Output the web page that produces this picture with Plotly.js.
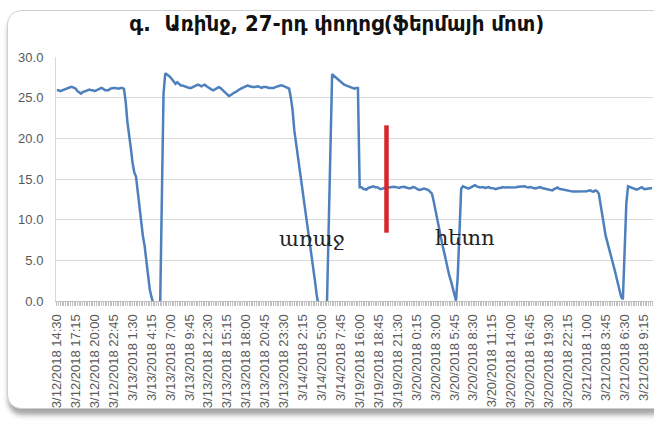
<!DOCTYPE html>
<html>
<head>
<meta charset="utf-8">
<script src="https://cdn.plot.ly/plotly-3.0.1.min.js"></script>
<style>
  html, body { margin: 0; padding: 0; background: #ffffff; }
  #wrap { position: relative; width: 654px; height: 421px; overflow: hidden; background: #ffffff; }
  #card { position: absolute; left: 7px; top: 10px; width: 680px; height: 397px;
          border: 1px solid #cfcfcf; border-radius: 14px; background: #ffffff;
          box-shadow: 1px 6px 5px rgba(0,0,0,0.35); }
  #chart { position: absolute; left: 0; top: 0; width: 654px; height: 421px; }
</style>
</head>
<body>
<div id="wrap">
  <div id="card"></div>
  <div id="chart"></div>
</div>
<script>
// Segment 1: 3/12/2018 14:30 onward, every 15 minutes
const seg1Start = [2018, 3, 12, 14, 30];
const seg1Temp = [
  25.9, 25.9, 25.8, 25.9, 26.0, 26.1, 26.2, 26.3, 26.3, 26.3,
  26.2, 26.1, 25.8, 25.6, 25.5, 25.7, 25.8, 25.9, 25.9, 26.0,
  25.9, 25.9, 25.8, 25.9, 26.0, 26.1, 26.2, 26.1, 25.9, 25.9,
  25.9, 26.1, 26.2, 26.2, 26.2, 26.1, 26.1, 26.2, 26.2, 26.1,
  24.5, 22.0, 20.6, 18.8, 17.0, 15.8, 15.3, 13.5, 11.0, 9.5,
  8.0, 6.8, 4.8, 2.8, 1.4, 0.5, -0.3, -3, -3, -3,
  -1, 12, 25.5, 28.0, 27.9, 27.7, 27.5, 27.2, 26.9, 26.7,
  26.9, 26.7, 26.5, 26.5, 26.4, 26.3, 26.3, 26.2, 26.2, 26.3,
  26.4, 26.5, 26.6, 26.5, 26.4, 26.5, 26.6, 26.4, 26.3, 26.1,
  26.0, 25.9, 26.0, 26.1, 26.3, 26.2, 26.0, 25.8, 25.6, 25.4,
  25.2, 25.3, 25.5, 25.6, 25.7, 25.9, 26.0, 26.1, 26.2, 26.3,
  26.4, 26.5, 26.4, 26.3, 26.3, 26.3, 26.4, 26.4, 26.3, 26.2,
  26.3, 26.3, 26.3, 26.2, 26.2, 26.2, 26.2, 26.3, 26.4, 26.4,
  26.5, 26.5, 26.4, 26.4, 26.3, 26.1, 25.0, 23.5, 21.0, 19.5,
  18.0, 16.5, 14.8, 13.0, 11.5, 10.3, 9.0, 7.5, 5.8, 4.2,
  2.5, 0.8, -0.5, -3, -3, -3, -3, -0.3, 9.5, 19.0,
  27.9, 27.7, 27.5, 27.3, 27.1, 26.9, 26.8, 26.6, 26.5, 26.4,
  26.3, 26.2, 26.1, 26.1, 26.2, 26.2
];
// Segment 2: 3/19/2018 16:00 onward, every 15 minutes
const seg2Start = [2018, 3, 19, 16, 0];
const seg2Temp = [
  14.0, 14.0, 13.8, 13.7, 13.7, 13.9, 13.95, 14.05, 14.1, 14.0,
  14.0, 13.9, 13.75, 13.8, 13.9, 14.0, 14.0, 13.95, 14.0, 14.05,
  14.05, 14.0, 13.95, 13.9, 14.0, 14.05, 14.05, 13.95, 13.9, 13.85,
  13.9, 14.0, 13.95, 13.8, 13.7, 13.65, 13.75, 13.8, 13.8, 13.7,
  13.65, 13.4, 13.2, 12.3, 11.2, 10.0, 8.9, 7.8, 7.0, 6.1,
  5.1, 4.0, 3.2, 2.5, 1.7, 0.8, 0.05, 3.0, 8.5, 13.8,
  14.1, 14.0, 13.9, 13.85, 13.9, 14.0, 14.15, 14.25, 14.1, 14.0,
  13.95, 14.0, 14.0, 13.9, 13.95, 14.0, 13.9, 13.9, 13.85, 13.75,
  13.85, 13.9, 13.9, 14.0, 13.95, 13.95, 14.0, 13.95, 14.0, 14.0,
  13.95, 14.0, 14.05, 14.05, 14.05, 14.1, 14.1, 14.0, 13.95, 14.0,
  13.95, 13.9, 13.85, 13.9, 13.95, 14.0, 13.9, 13.85, 13.85, 13.8,
  13.75, 13.7, 13.6, 13.75, 13.9, 13.95, 13.8, 13.75, 13.7, 13.65,
  13.6, 13.55, 13.5, 13.45, 13.45, 13.45, 13.45, 13.45, 13.45, 13.5,
  13.45, 13.45, 13.5, 13.55, 13.6, 13.5, 13.45, 13.6, 13.5, 13.2,
  11.8, 10.2, 9.0, 8.0, 7.2, 6.5, 5.6, 4.8, 4.0, 3.2,
  2.3, 1.5, 0.5, 0.2, 6.0, 12.0, 14.1, 14.0, 13.95, 13.8,
  13.75, 13.7, 13.8, 13.9, 14.0, 13.8, 13.75, 13.8, 13.85, 13.85, 13.9
];
const tickLabels = [
  "3/12/2018 14:30", "3/12/2018 17:15", "3/12/2018 20:00", "3/12/2018 22:45",
  "3/13/2018 1:30", "3/13/2018 4:15", "3/13/2018 7:00", "3/13/2018 9:45",
  "3/13/2018 12:30", "3/13/2018 15:15", "3/13/2018 18:00", "3/13/2018 20:45",
  "3/13/2018 23:30", "3/14/2018 2:15", "3/14/2018 5:00", "3/14/2018 7:45",
  "3/19/2018 16:00", "3/19/2018 18:45", "3/19/2018 21:30", "3/20/2018 0:15",
  "3/20/2018 3:00", "3/20/2018 5:45", "3/20/2018 8:30", "3/20/2018 11:15",
  "3/20/2018 14:00", "3/20/2018 16:45", "3/20/2018 19:30", "3/20/2018 22:15",
  "3/21/2018 1:00", "3/21/2018 3:45", "3/21/2018 6:30", "3/21/2018 9:15"
];
const yTicks = [0, 5, 10, 15, 20, 25, 30];
const titleText = "գ.  Առինջ, 27-րդ փողոց(ֆերմայի մոտ)";
const beforeText = "առաջ";
const afterText = "հետո";

function timeLabels(start, count) {
  const out = [];
  const t0 = Date.UTC(start[0], start[1] - 1, start[2], start[3], start[4]);
  for (let i = 0; i < count; i++) {
    const d = new Date(t0 + i * 15 * 60000);
    const mm = String(d.getUTCMinutes()).padStart(2, "0");
    out.push((d.getUTCMonth() + 1) + "/" + d.getUTCDate() + "/" + d.getUTCFullYear() +
             " " + d.getUTCHours() + ":" + mm);
  }
  return out;
}
const categories = timeLabels(seg1Start, seg1Temp.length).concat(timeLabels(seg2Start, seg2Temp.length));
const temps = seg1Temp.concat(seg2Temp);
const tickText = categories.map(c => tickLabels.includes(c) ? c : "");

const trace = {
  x: categories, y: temps, type: "scatter", mode: "lines",
  line: { color: "#4d80bd", width: 2.5 },
  hoverinfo: "x+y"
};

const layout = {
  width: 654, height: 421,
  margin: { l: 56, r: 1, t: 57, b: 120 },
  paper_bgcolor: "rgba(0,0,0,0)", plot_bgcolor: "rgba(0,0,0,0)",
  showlegend: false,
  title: {
    text: "<b>" + titleText + "</b>",
    font: { family: "DejaVu Sans Condensed, DejaVu Sans", size: 22, color: "#111111" },
    xref: "container", yref: "container", x: 0.515, y: 0.945,
    xanchor: "center", yanchor: "middle"
  },
  xaxis: {
    type: "category", range: [-0.5, categories.length - 0.5],
    tickmode: "array", tickvals: categories, ticktext: tickText,
    tickangle: -90, ticks: "outside", ticklen: 4, tickcolor: "#bfbfbf", tickwidth: 1,
    ticklabelstandoff: 3,
    showgrid: false, showline: true, linecolor: "#bfbfbf", linewidth: 1,
    tickfont: { family: "Liberation Sans, Arial", size: 13, color: "#595959" },
    fixedrange: true, zeroline: false
  },
  yaxis: {
    range: [0, 30], tickmode: "array", tickvals: yTicks,
    ticktext: yTicks.map(v => v.toFixed(1)),
    showgrid: true, gridcolor: "#d9d9d9", gridwidth: 1,
    showline: true, linecolor: "#d9d9d9", zeroline: false,
    ticks: "", ticklabelstandoff: 9,
    tickfont: { family: "Liberation Sans, Arial", size: 13, color: "#595959" },
    fixedrange: true
  },
  shapes: [
    { type: "line", xref: "paper", yref: "y", x0: 0.5536, x1: 0.5536, y0: 8.4, y1: 21.6,
      line: { color: "#d7262d", width: 4.5 } }
  ],
  annotations: [
    { text: beforeText, xref: "paper", yref: "y", x: 0.3702, xanchor: "left", y: 7.6, showarrow: false,
      font: { family: "DejaVu Serif", size: 21, color: "#222222" } },
    { text: afterText, xref: "paper", yref: "y", x: 0.6315, xanchor: "left", y: 7.8, showarrow: false,
      font: { family: "DejaVu Serif", size: 21, color: "#222222" } }
  ]
};

Plotly.newPlot("chart", [trace], layout, { displayModeBar: false, staticPlot: true });
</script>
</body>
</html>
